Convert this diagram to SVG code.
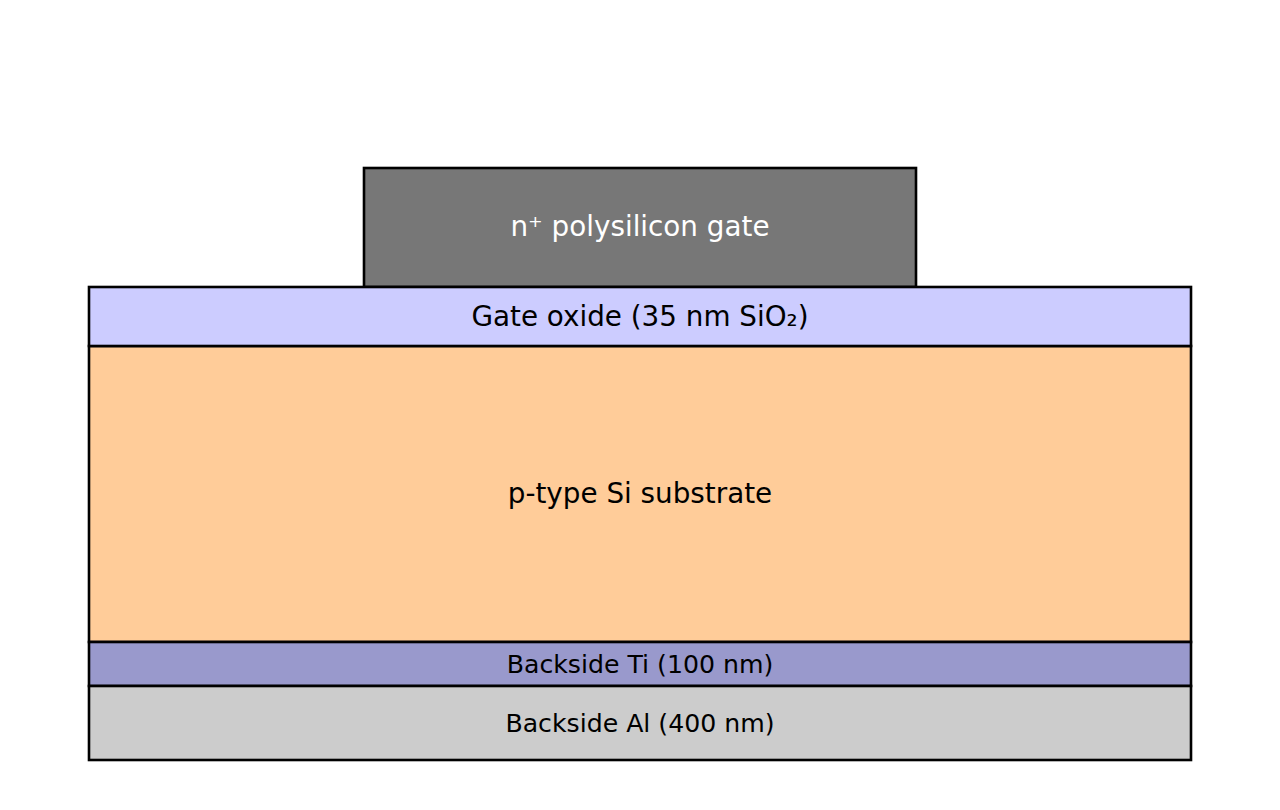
<svg xmlns="http://www.w3.org/2000/svg" width="1280" height="810" viewBox="0 0 1280 810">
<style>
rect{stroke:#000;stroke-width:2.6}
text{font-family:"DejaVu Sans",sans-serif;text-anchor:middle;dominant-baseline:central;fill:#000}
.big{font-size:27.8px}
.small{font-size:25.2px}
</style>
<rect x="0" y="0" width="1280" height="810" style="fill:#fff;stroke:none"/>
<g id="substrate"><rect x="89" y="346" width="1102" height="296" fill="#ffcc99"/><text class="big" x="640" y="493">p-type Si substrate</text></g>
<g id="ti"><rect x="89" y="642" width="1102" height="44" fill="#9999cc"/><text class="small" x="640" y="664">Backside Ti (100 nm)</text></g>
<g id="al"><rect x="89" y="686" width="1102" height="74" fill="#cccccc"/><text class="small" x="640" y="723">Backside Al (400 nm)</text></g>
<g id="gate"><rect x="364" y="168" width="552" height="119" fill="#777777"/><text class="big" x="640" y="226" style="fill:#fff">n⁺ polysilicon gate</text></g>
<g id="oxide"><rect x="89" y="287" width="1102" height="59" fill="#ccccff"/><text class="big" x="640" y="316">Gate oxide (35 nm SiO₂)</text></g>
<g id="connectors"/>
</svg>
